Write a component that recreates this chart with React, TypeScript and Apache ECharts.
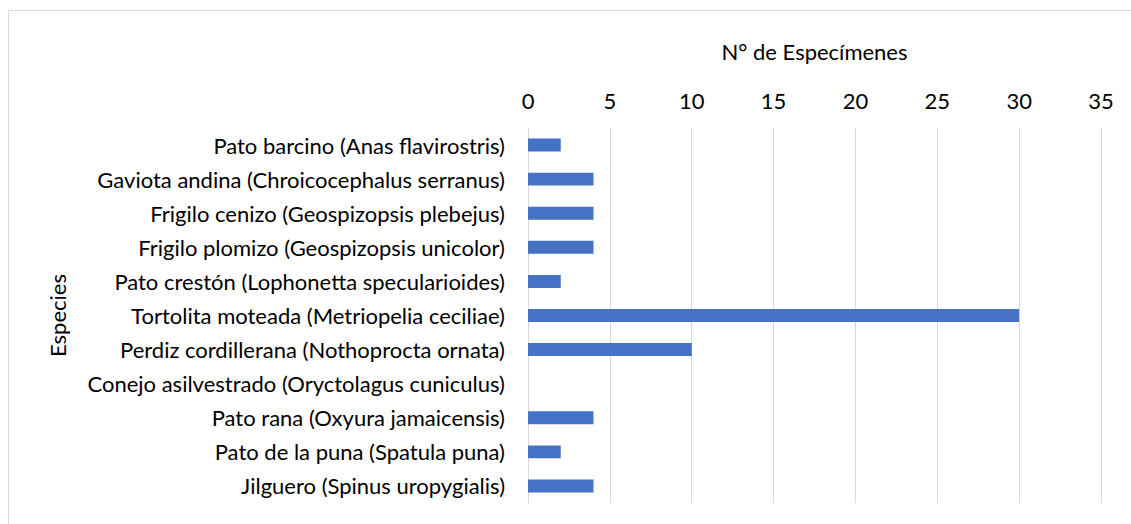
import React, { useEffect, useRef } from "react";
import * as echarts from "echarts";

const categories = [
  "Pato barcino (Anas flavirostris)",
  "Gaviota andina (Chroicocephalus serranus)",
  "Frigilo cenizo (Geospizopsis plebejus)",
  "Frigilo plomizo (Geospizopsis unicolor)",
  "Pato crestón (Lophonetta specularioides)",
  "Tortolita moteada (Metriopelia ceciliae)",
  "Perdiz cordillerana (Nothoprocta ornata)",
  "Conejo asilvestrado (Oryctolagus cuniculus)",
  "Pato rana (Oxyura jamaicensis)",
  "Pato de la puna (Spatula puna)",
  "Jilguero (Spinus uropygialis)",
];
const values = [2, 4, 4, 4, 2, 30, 10, 0, 4, 2, 4];
const xTitle = "N° de Especímenes";
const yTitle = "Especies";

const FONT = "Lato, 'Open Sans', sans-serif";
const FS = 22;

export default function App() {
  const ref = useRef<HTMLDivElement>(null);
  useEffect(() => {
    if (!ref.current) return;
    const chart = echarts.init(ref.current, null, { renderer: "svg" });
    chart.setOption({
      animation: false,
      backgroundColor: "#ffffff",
      textStyle: { fontFamily: FONT },
      graphic: [
        {
          type: "polyline",
          shape: { points: [[8.5, 530], [8.5, 10.5], [1140, 10.5]] },
          style: { stroke: "#d9d9d9", lineWidth: 1, fill: "none" },
          silent: true,
        },
      ],
      grid: { left: 528, right: 30, top: 128, bottom: 21 },
      xAxis: {
        type: "value",
        position: "top",
        min: 0,
        max: 35,
        interval: 5,
        name: xTitle,
        nameLocation: "middle",
        nameGap: 66,
        nameTextStyle: { fontSize: FS, color: "#000", fontFamily: FONT },
        axisLine: { show: false },
        axisTick: { show: false },
        axisLabel: { fontSize: FS, color: "#000", margin: 17, fontFamily: FONT },
        splitLine: { show: true, lineStyle: { color: "#d9d9d9", width: 1 } },
      },
      yAxis: {
        type: "category",
        data: categories,
        inverse: true,
        name: yTitle,
        nameLocation: "middle",
        nameGap: 460,
        nameRotate: 90,
        nameTextStyle: { fontSize: FS, color: "#000", fontFamily: FONT },
        axisLine: { show: true, lineStyle: { color: "#d9d9d9", width: 1 } },
        axisTick: { show: false },
        axisLabel: { fontSize: FS, color: "#000", margin: 23, fontFamily: FONT },
        splitLine: { show: false },
      },
      series: [
        {
          type: "bar",
          data: values,
          barWidth: "38%",
          itemStyle: { color: "#4472C4" },
        },
      ],
    });
    return () => chart.dispose();
  }, []);
  return (
    <div
      ref={ref}
      style={{ position: "fixed", left: 0, top: 0, width: 1131, height: 524 }}
    />
  );
}
